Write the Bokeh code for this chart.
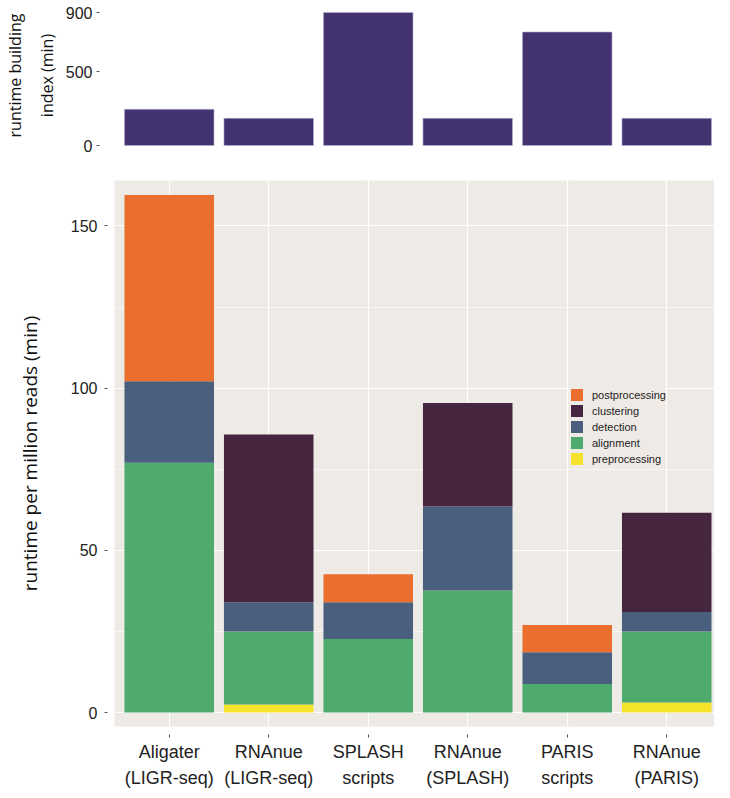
from bokeh.plotting import figure
from bokeh.layouts import column
from bokeh.models import Range1d, FixedTicker, Legend, LegendItem, ColumnDataSource
from bokeh.embed import file_html
from bokeh.resources import INLINE

# ---- data ----
tools = ["Aligater\n(LIGR-seq)", "RNAnue\n(LIGR-seq)", "SPLASH\nscripts",
         "RNAnue\n(SPLASH)", "PARIS\nscripts", "RNAnue\n(PARIS)"]
index_runtime = [245, 184, 900, 184, 768, 184]          # min
preprocessing = [0.0, 2.5, 0.0, 0.0, 0.0, 3.1]
alignment = [77.0, 22.5, 22.7, 37.6, 8.8, 21.9]
detection = [25.1, 9.0, 11.3, 25.9, 9.8, 6.0]
clustering = [0.0, 51.7, 0.0, 31.9, 0.0, 30.6]
postprocessing = [57.4, 0.0, 8.6, 0.0, 8.4, 0.0]
stages = ["preprocessing", "alignment", "detection", "clustering", "postprocessing"]
stage_colors = ["#F4E22B", "#4EAB6D", "#4A5F7E", "#46263F", "#EA6F2E"]
top_ticks = [0, 500, 900]
bottom_ticks = [0, 50, 100, 150]
bottom_minor = [25, 75, 125]

PANEL = "#EEEAE6"
x = list(range(1, len(tools) + 1))
labels = {i: t for i, t in zip(x, tools)}
xr = Range1d(0.45, 6.48)

# ---- top: index building runtime ----
p1 = figure(width=714, height=158, x_range=xr, y_range=Range1d(-33.8, 981.2),
            output_backend="svg", toolbar_location=None, x_axis_location=None,
            min_border_left=106, min_border_right=0, min_border_top=0, min_border_bottom=8)
p1.vbar(x=x, top=index_runtime, width=0.9, fill_color="#433471",
        line_color="#B9B0D6", line_width=0.6)
p1.outline_line_color = None
p1.grid.visible = False
ya = p1.yaxis[0]
ya.ticker = FixedTicker(ticks=top_ticks)
ya.axis_line_color = None
ya.major_tick_in = -15
ya.major_tick_out = 18
ya.major_tick_line_color = "#555555"
ya.minor_tick_line_color = None
ya.major_label_standoff = 4
ya.major_label_text_font = "Liberation Sans"
ya.major_label_text_font_size = "16px"
ya.major_label_text_color = "#222222"
ya.axis_label = "runtime building\nindex (min)"
ya.axis_label_text_font = "Open Sans"
ya.axis_label_text_font_style = "normal"
ya.axis_label_text_font_size = "16px"
ya.axis_label_text_color = "#111111"
ya.axis_label_text_line_height = 1.45
ya.axis_label_standoff = 5

# ---- bottom: stacked runtime per million reads ----
src = ColumnDataSource(data=dict(x=x, preprocessing=preprocessing, alignment=alignment,
                                 detection=detection, clustering=clustering,
                                 postprocessing=postprocessing))
p2 = figure(width=714, height=632, x_range=xr, y_range=Range1d(-4.3, 164),
            output_backend="svg", toolbar_location=None,
            min_border_left=106, min_border_right=0, min_border_top=22, min_border_bottom=60)
p2.background_fill_color = PANEL
p2.outline_line_color = None
rs = p2.vbar_stack(stages, x="x", width=0.9, fill_color=stage_colors, line_color=None,
                   source=src)

p2.xgrid.ticker = FixedTicker(ticks=x)
p2.xgrid.grid_line_color = "white"
p2.xgrid.grid_line_width = 1.2
p2.ygrid.ticker = FixedTicker(ticks=bottom_ticks, minor_ticks=bottom_minor)
p2.ygrid.grid_line_color = "white"
p2.ygrid.grid_line_width = 1.2
p2.ygrid.minor_grid_line_color = "white"
p2.ygrid.minor_grid_line_width = 0.7
p2.ygrid.minor_grid_line_alpha = 0.8

yb = p2.yaxis[0]
yb.ticker = FixedTicker(ticks=bottom_ticks, minor_ticks=bottom_minor)
yb.axis_line_color = None
yb.major_tick_in = -7
yb.major_tick_out = 10
yb.major_tick_line_color = "#555555"
yb.minor_tick_line_color = None
yb.major_label_standoff = 7
yb.major_label_text_font = "Liberation Sans"
yb.major_label_text_font_size = "16px"
yb.major_label_text_color = "#222222"
yb.axis_label = "runtime per million reads (min)"
yb.axis_label_text_font = "Open Sans"
yb.axis_label_text_font_style = "normal"
yb.axis_label_text_font_size = "19px"
yb.axis_label_text_color = "#111111"
yb.axis_label_standoff = 25

xb = p2.xaxis[0]
xb.ticker = FixedTicker(ticks=x)
xb.major_label_overrides = labels
xb.axis_line_color = None
xb.major_tick_in = -8
xb.major_tick_out = 11
xb.major_tick_line_color = "#555555"
xb.minor_tick_line_color = None
xb.major_label_standoff = 4
xb.major_label_text_font = "Liberation Sans"
xb.major_label_text_font_size = "18px"
xb.major_label_text_color = "#222222"
xb.major_label_text_line_height = 1.3

items = [LegendItem(label=s, renderers=[r]) for s, r in zip(stages, rs)][::-1]
legend = Legend(items=items, location=(455, 260), glyph_width=15, glyph_height=15,
                label_height=15, label_standoff=8, spacing=1, padding=3, margin=0,
                label_text_font="Liberation Sans", label_text_font_size="11px",
                label_text_color="#222222", background_fill_color=PANEL,
                border_line_color=None)
p2.add_layout(legend)

p = column(p1, p2)
open("out.html", "w").write(file_html(p, INLINE))
